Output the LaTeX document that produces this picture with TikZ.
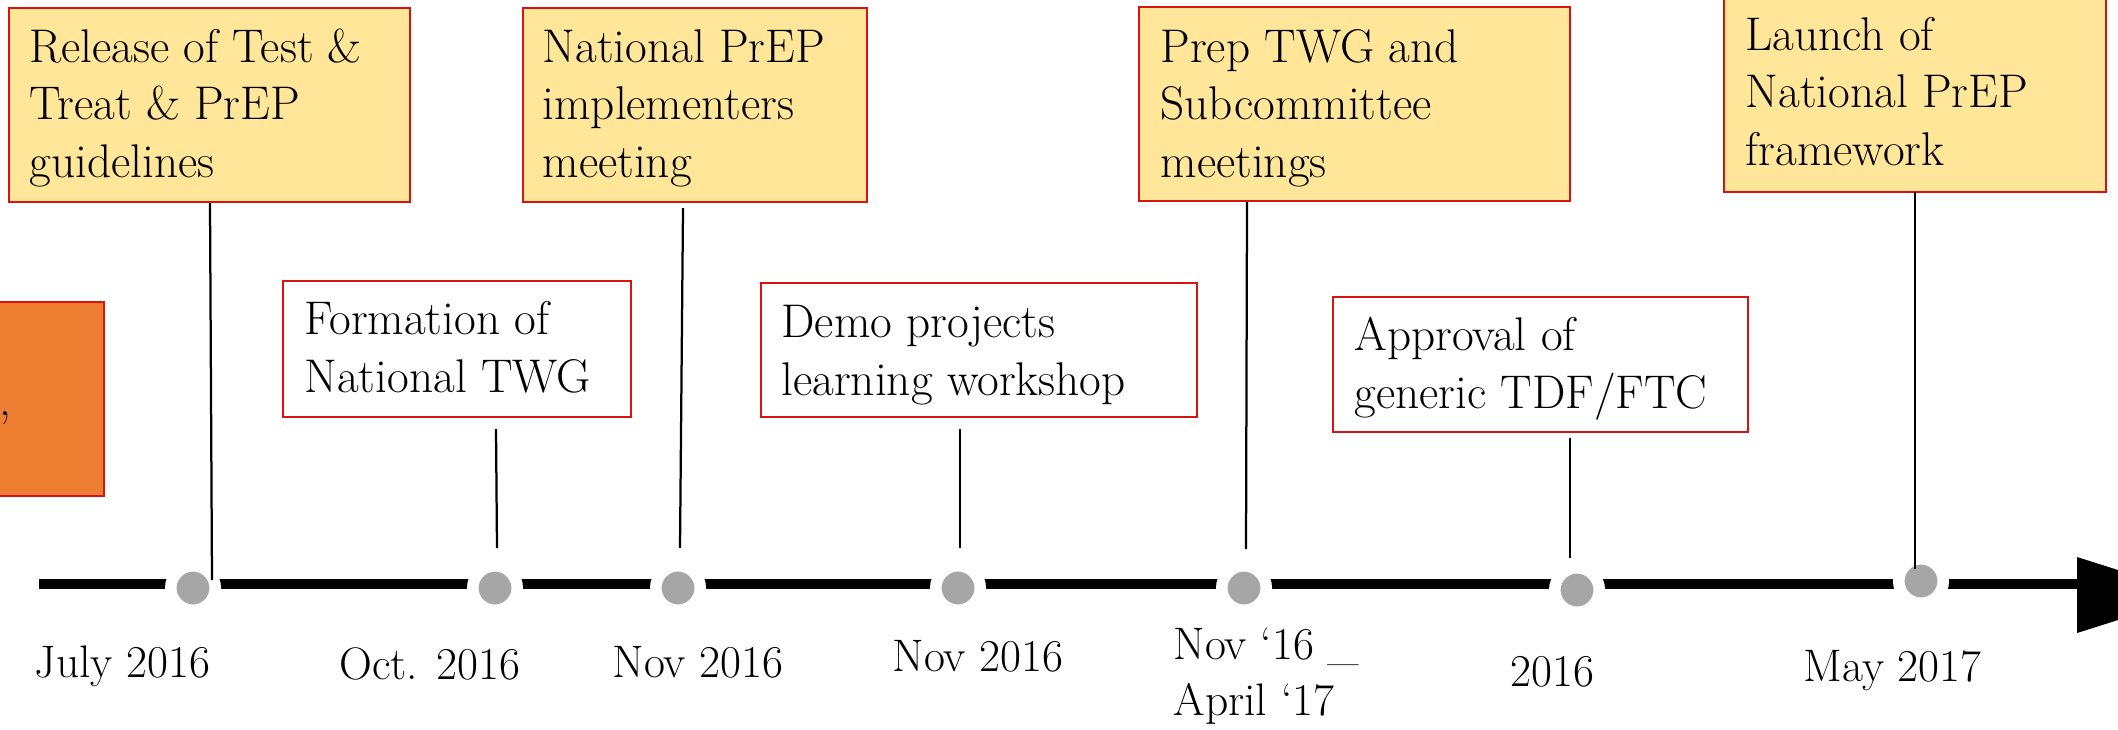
\documentclass[tikz,border=0pt]{standalone}
\usetikzlibrary{fit}
\definecolor{boxred}{RGB}{218,18,18}
\definecolor{eventyellow}{RGB}{255,230,153}
\definecolor{eventorange}{RGB}{237,125,49}
\definecolor{dotgray}{RGB}{166,166,166}
\begin{document}
\begin{tikzpicture}[x=0.0125cm,y=-0.0125cm,
  evbox/.style={draw=boxred,line width=0.7pt,inner sep=0pt},
  keybox/.style={evbox,fill=eventyellow},
  plainbox/.style={evbox,fill=white},
  % multi-line texts are placed by the baseline of their last line
  evtext/.style={anchor=base west,inner sep=0pt,align=left,
    font=\fontsize{16.8}{20.3}\selectfont},
  datetext/.style={evtext,font=\fontsize{16.2}{19.9}\selectfont},
  dot/.style={circle,inner sep=0pt,minimum size=0.556cm,fill=dotgray,
    draw=white,line width=0.144cm},
  stem/.style={line width=0.8pt,black},
  timeline/.style={line width=3.55pt,black}]
\useasboundingbox (0,0) rectangle (2118,729);
\clip (0,0) rectangle (2118,729);

% main axis with its arrow head
\coordinate (axisstart) at (39,584);
\coordinate (axisend) at (2078,584);
\draw[timeline] (axisstart) -- (axisend);
\fill (2077,557) -- (2197,595) -- (2077,633) -- cycle;

% milestone dots on the axis
\node[dot] (d1) at (193,588) {};
\node[dot] (d2) at (495,588) {};
\node[dot] (d3) at (678,588) {};
\node[dot] (d4) at (958,588) {};
\node[dot] (d5) at (1244,588) {};
\node[dot] (d6) at (1577,590) {};
\node[dot] (d7) at (1921,581) {};

% event boxes
\node[evbox,fill=eventorange,fit={(-200,302) (104,496)}] (side) {};
\node[evtext,anchor=base east] (sidetext) at (11.5,415) {,};

\node[keybox,fit={(9,8) (410,202)}] (b1) {};
\node[evtext] (t1) at (29,177) {Release of Test \&\\Treat \& PrEP\\guidelines};

\node[plainbox,fit={(283,281) (631,417)}] (b2) {};
\node[evtext] (t2) at (304,392) {Formation of\\National TWG};

\node[keybox,fit={(523,8) (867,202)}] (b3) {};
\node[evtext] (t3) at (542,177) {National PrEP\\implementers\\meeting};

\node[plainbox,fit={(761,283) (1197,417)}] (b4) {};
\node[evtext] (t4) at (781,395) {Demo projects\\learning workshop};

\node[keybox,fit={(1139,7) (1570,201)}] (b5) {};
\node[evtext] (t5) at (1160,177) {Prep TWG and\\Subcommittee\\meetings};

\node[plainbox,fit={(1333,297) (1748,432)}] (b6) {};
\node[evtext] (t6) at (1354,408) {Approval of\\generic TDF/FTC};

\node[keybox,fit={(1724,-10) (2106,192)}] (b7) {};
\node[evtext] (t7) at (1745,165) {Launch of\\National PrEP\\framework};

% stems from the boxes down to the axis
\coordinate (s1a) at (210,203);  \coordinate (s1b) at (212,580);
\coordinate (s2a) at (496,429);  \coordinate (s2b) at (497,548);
\coordinate (s3a) at (683,208);  \coordinate (s3b) at (680,548);
\coordinate (s4a) at (960,429);  \coordinate (s4b) at (960,548);
\coordinate (s5a) at (1247,202); \coordinate (s5b) at (1246,549);
\coordinate (s6a) at (1570,438); \coordinate (s6b) at (1570,558);
\coordinate (s7a) at (1915,192); \coordinate (s7b) at (1915,569);
\foreach \i in {1,...,7} {\draw[stem] (s\i a) -- (s\i b);}

% dates under the axis
\node[datetext] (l1) at (34,677) {July 2016};
\node[datetext] (l2) at (339,679) {Oct. 2016};
\node[datetext] (l3) at (612,677) {Nov 2016};
\node[datetext] (l4) at (892,671) {Nov 2016};
\node[datetext] (l5) at (1173,715) {Nov `16 \_\\April `17};
\node[datetext] (l6) at (1510,686) {2016};
\node[datetext] (l7) at (1803,681) {May 2017};
\end{tikzpicture}
\end{document}
